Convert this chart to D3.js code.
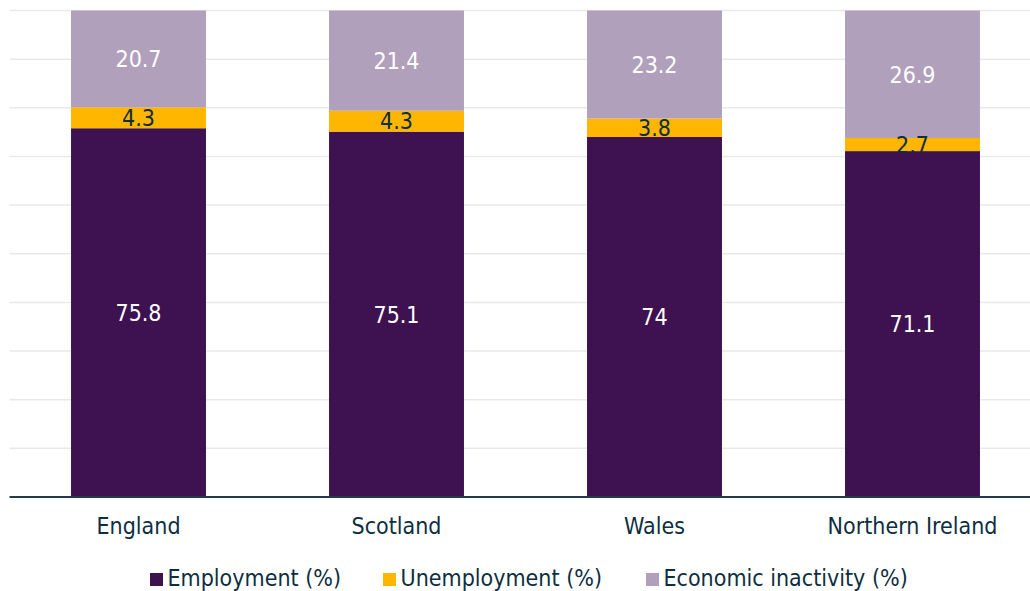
<!DOCTYPE html>
<html>
<head>
<meta charset="utf-8">
<script src="https://cdn.jsdelivr.net/npm/d3@7"></script>
<style>
  html, body { margin: 0; padding: 0; background: #fff; }
  svg { display: block; font-family: "DejaVu Sans Condensed", "DejaVu Sans", sans-serif; font-stretch: condensed; }
</style>
</head>
<body>
<svg id="chart" width="1030" height="591"></svg>
<script>
// Labour market status by UK nation (%)
const categories = ["England", "Scotland", "Wales", "Northern Ireland"];
const employment = [75.8, 75.1, 74, 71.1];
const unemployment = [4.3, 4.3, 3.8, 2.7];
const inactivity = [20.7, 21.4, 23.2, 26.9];
const seriesNames = ["Employment (%)", "Unemployment (%)", "Economic inactivity (%)"];
const yTicks = [0, 10, 20, 30, 40, 50, 60, 70, 80, 90, 100];

const colors = ["#3e1151", "#ffb600", "#b1a0bb"];
const labelColors = ["#ffffff", "#0d2e3f", "#ffffff"];
const textColor = "#0d2e3f";
const fontFamily = "'DejaVu Sans Condensed', 'DejaVu Sans', sans-serif";
const fontSize = 23;

const svg = d3.select("#chart");
const plot = { left: 9.5, right: 1041.5, top: 10.5, bottom: 497 };

const x = d3.scaleBand().domain(categories).range([plot.left, plot.right]).paddingInner(0.477).paddingOuter(0.2385);
const y = d3.scaleLinear().domain([0, 100]).range([plot.bottom, plot.top]);

const rows = categories.map((c, i) => ({
  cat: c,
  "Employment (%)": employment[i],
  "Unemployment (%)": unemployment[i],
  "Economic inactivity (%)": inactivity[i]
}));
const stacked = d3.stack().keys(seriesNames)(rows);

// gridlines
svg.append("g").selectAll("line").data(yTicks.filter(t => t > 0)).join("line")
  .attr("x1", plot.left).attr("x2", 1030)
  .attr("y1", d => y(d)).attr("y2", d => y(d))
  .attr("stroke", "#e9e9e9").attr("stroke-width", 1.5);

// bars clipped to the value axis maximum
svg.append("clipPath").attr("id", "plotClip").append("rect")
  .attr("x", 0).attr("y", plot.top).attr("width", 1100).attr("height", plot.bottom - plot.top);

const barG = svg.append("g").attr("clip-path", "url(#plotClip)");
stacked.forEach((s, si) => {
  barG.append("g").selectAll("rect").data(s).join("rect")
    .attr("x", d => x(d.data.cat))
    .attr("width", x.bandwidth())
    .attr("y", d => y(d[1]))
    .attr("height", d => y(d[0]) - y(d[1]))
    .attr("fill", colors[si]);
});

// value labels centred in each visible segment
stacked.forEach((s, si) => {
  svg.append("g").selectAll("text").data(s).join("text")
    .attr("x", d => x(d.data.cat) + x.bandwidth() / 2)
    .attr("y", d => y((d[0] + Math.min(d[1], 100)) / 2))
    .attr("dy", "0.36em")
    .attr("text-anchor", "middle")
    .attr("font-family", fontFamily)
    .attr("font-size", fontSize)
    .attr("fill", labelColors[si])
    .text(d => d.data[s.key]);
});

// category axis
const xAxis = svg.append("g").attr("transform", `translate(0,${plot.bottom})`)
  .call(d3.axisBottom(x).tickSize(0).tickPadding(0));
xAxis.select(".domain").remove();
xAxis.selectAll("text")
  .attr("y", 37).attr("dy", null)
  .attr("font-size", fontSize).attr("fill", textColor).attr("font-family", fontFamily);
svg.append("line")
  .attr("x1", plot.left).attr("x2", 1030)
  .attr("y1", plot.bottom).attr("y2", plot.bottom)
  .attr("stroke", "#1f3c4c").attr("stroke-width", 2);

// legend
const legendX = [150, 383, 646];
const legend = svg.append("g").selectAll("g").data(seriesNames).join("g")
  .attr("transform", (d, i) => `translate(${legendX[i]},573)`);
legend.append("rect").attr("width", 13).attr("height", 13).attr("fill", (d, i) => colors[i]);
legend.append("text").attr("x", 17.5).attr("y", 13)
  .attr("font-family", fontFamily)
  .attr("font-size", fontSize).attr("fill", textColor).text(d => d);
</script>
</body>
</html>
